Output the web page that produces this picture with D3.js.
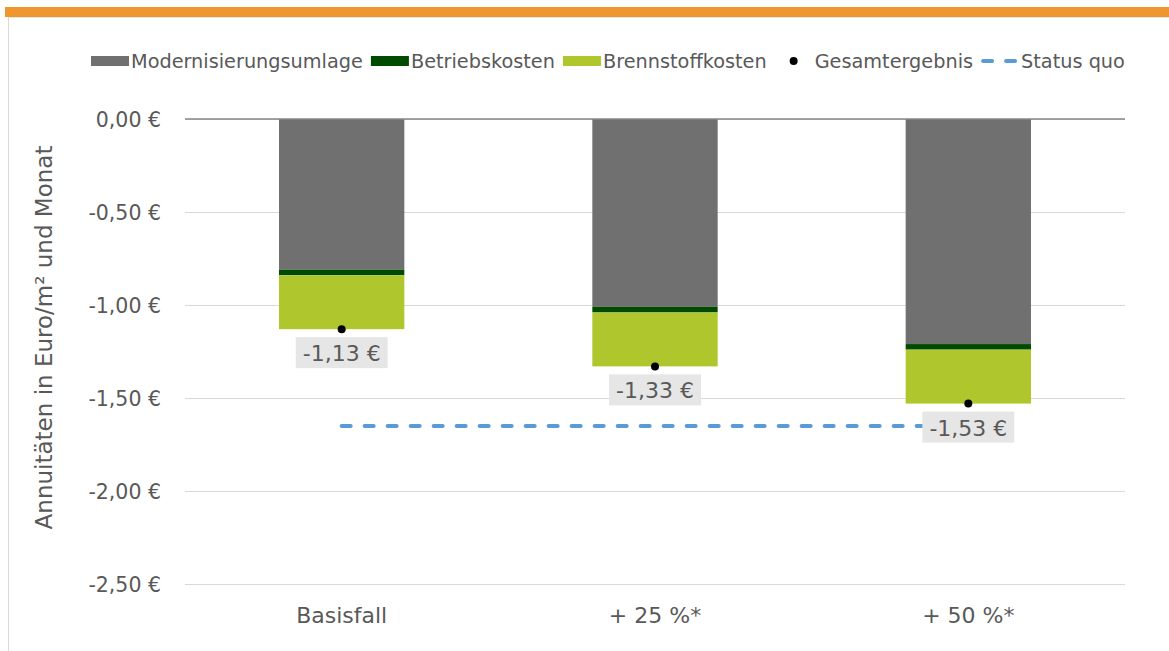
<!DOCTYPE html>
<html lang="de">
<head>
<meta charset="utf-8">
<title>Annuitäten je Szenario</title>
<script src="https://cdn.jsdelivr.net/npm/d3@7"></script>
<style>
  html, body { margin: 0; padding: 0; background: #ffffff; }
  svg { display: block; }
</style>
</head>
<body>
<svg id="chart" width="1169" height="651"></svg>
<script>
// Szenarien und Kostenbestandteile (Euro je m² und Monat)
const categories = ["Basisfall", "+ 25 %*", "+ 50 %*"];
const modernisierungsumlage = [-0.81, -1.01, -1.21];
const betriebskosten = [-0.03, -0.03, -0.03];
const brennstoffkosten = [-0.29, -0.29, -0.29];
const gesamtergebnis = [-1.13, -1.33, -1.53];
const statusQuo = -1.65;
const yTicks = [0, -0.5, -1.0, -1.5, -2.0, -2.5];

const seriesNames = ["Modernisierungsumlage", "Betriebskosten", "Brennstoffkosten"];
const seriesColors = ["#707070", "#004b00", "#afc72c"];
const seriesValues = [modernisierungsumlage, betriebskosten, brennstoffkosten];

const svg = d3.select("#chart");
const W = 1169, H = 651;
const plot = { left: 185, right: 1125, top: 119, bottom: 584 };

const font = "'DejaVu Sans', Verdana, sans-serif";
const textGrey = "#595959";

// Rahmen: orangefarbene Kopfleiste und feine Ränder
svg.append("rect").attr("x", 5).attr("y", 7).attr("width", W - 5).attr("height", 10).attr("fill", "#f0962e");
svg.append("line").attr("x1", 8).attr("x2", W).attr("y1", 17.5).attr("y2", 17.5).attr("stroke", "#e3e3e3").attr("stroke-width", 1);
svg.append("line").attr("x1", 8.5).attr("x2", 8.5).attr("y1", 17).attr("y2", H).attr("stroke", "#d9d9d9").attr("stroke-width", 1);

// Skalen
const x = d3.scaleBand().domain(categories).range([plot.left, plot.right]).paddingInner(0.6).paddingOuter(0.3);
const y = d3.scaleLinear().domain([-2.5, 0]).range([plot.bottom, plot.top]);

const locale = d3.formatLocale({ decimal: ",", thousands: ".", grouping: [3], currency: ["", " €"], minus: "-" });
const fmt = v => locale.format(".2f")(v) + " €";

// Y-Achse mit Gitterlinien
const yAxis = svg.append("g")
  .attr("transform", `translate(${plot.left},0)`)
  .call(d3.axisLeft(y).tickValues(yTicks).tickSize(-(plot.right - plot.left)).tickPadding(24).tickFormat(fmt));
yAxis.select(".domain").remove();
yAxis.selectAll(".tick line").attr("stroke", "#d9d9d9").attr("stroke-width", 1);
yAxis.selectAll(".tick text")
  .attr("fill", textGrey).attr("font-family", font).attr("font-size", 20.5).attr("dy", "0.36em");

// Kategorienachse (Beschriftung unten)
const xAxis = svg.append("g")
  .attr("transform", `translate(0,${plot.bottom})`)
  .call(d3.axisBottom(x).tickSize(0).tickPadding(0));
xAxis.select(".domain").remove();
xAxis.selectAll(".tick text")
  .attr("fill", textGrey).attr("font-family", font).attr("font-size", 22)
  .attr("y", 39).attr("dy", 0);

// Gestapelte Balken
const stackData = categories.map((c, i) => {
  const row = { category: c };
  seriesNames.forEach((s, k) => { row[s] = seriesValues[k][i]; });
  return row;
});
const stacked = d3.stack().keys(seriesNames).offset(d3.stackOffsetDiverging)(stackData);

svg.append("g").selectAll("g")
  .data(stacked)
  .join("g")
  .attr("fill", (d, k) => seriesColors[k])
  .selectAll("rect")
  .data(d => d)
  .join("rect")
  .attr("x", d => x(d.data.category))
  .attr("width", x.bandwidth())
  .attr("y", d => y(Math.max(d[0], d[1])))
  .attr("height", d => Math.abs(y(d[0]) - y(d[1])));

// Nulllinie
svg.append("line")
  .attr("x1", plot.left).attr("x2", plot.right)
  .attr("y1", y(0)).attr("y2", y(0))
  .attr("stroke", "#868686").attr("stroke-width", 1.5);

// Status quo als gestrichelte Linie
const cx = c => x(c) + x.bandwidth() / 2;
svg.append("line")
  .attr("x1", cx(categories[0])).attr("x2", cx(categories[categories.length - 1]))
  .attr("y1", y(statusQuo)).attr("y2", y(statusQuo))
  .attr("stroke", "#5b9bd5").attr("stroke-width", 4)
  .attr("stroke-linecap", "round").attr("stroke-dasharray", "9 14");

// Gesamtergebnis: Punkte
svg.append("g").selectAll("circle")
  .data(categories)
  .join("circle")
  .attr("cx", c => cx(c))
  .attr("cy", (c, i) => y(gesamtergebnis[i]))
  .attr("r", 4)
  .attr("fill", "#000000");

// Datenbeschriftungen mit grauem Hintergrund
const labels = svg.append("g").selectAll("g")
  .data(categories)
  .join("g")
  .attr("transform", (c, i) => `translate(${cx(c)},${y(gesamtergebnis[i]) + 8})`);
labels.append("text")
  .attr("text-anchor", "middle")
  .attr("y", 24)
  .attr("fill", textGrey).attr("font-family", font).attr("font-size", 22)
  .text((c, i) => fmt(gesamtergebnis[i]));
labels.each(function () {
  const g = d3.select(this);
  const w = g.select("text").node().getComputedTextLength();
  g.insert("rect", "text")
    .attr("x", -w / 2 - 7).attr("y", 0)
    .attr("width", w + 14).attr("height", 31)
    .attr("fill", "#e6e6e6");
});

// Y-Achsentitel
svg.append("text")
  .attr("transform", `translate(52,${(plot.top + plot.bottom) / 2 - 14}) rotate(-90)`)
  .attr("text-anchor", "middle")
  .attr("fill", textGrey).attr("font-family", font).attr("font-size", 23)
  .text("Annuitäten in Euro/m² und Monat");

// Legende
const legendItems = [
  { name: "Modernisierungsumlage", type: "rect", color: seriesColors[0] },
  { name: "Betriebskosten", type: "rect", color: seriesColors[1] },
  { name: "Brennstoffkosten", type: "rect", color: seriesColors[2] },
  { name: "Gesamtergebnis", type: "dot", color: "#000000" },
  { name: "Status quo", type: "dash", color: "#5b9bd5" }
];
const legend = svg.append("g");
let lx = 91;
const ly = 61;
legendItems.forEach(item => {
  const g = legend.append("g").attr("transform", `translate(${lx},${ly})`);
  if (item.type === "rect") {
    g.append("rect").attr("x", 0).attr("y", -5).attr("width", 38).attr("height", 10).attr("fill", item.color);
  } else if (item.type === "dot") {
    g.append("circle").attr("cx", 19).attr("cy", 0).attr("r", 4).attr("fill", item.color);
  } else {
    g.append("line").attr("x1", 2).attr("x2", 38).attr("y1", 0).attr("y2", 0)
      .attr("stroke", item.color).attr("stroke-width", 4)
      .attr("stroke-linecap", "round").attr("stroke-dasharray", "9 14");
  }
  const t = g.append("text")
    .attr("x", 40).attr("y", 7)
    .attr("fill", textGrey).attr("font-family", font).attr("font-size", 19.3)
    .text(item.name);
  lx += 40 + t.node().getComputedTextLength() + 8;
});
</script>
</body>
</html>
